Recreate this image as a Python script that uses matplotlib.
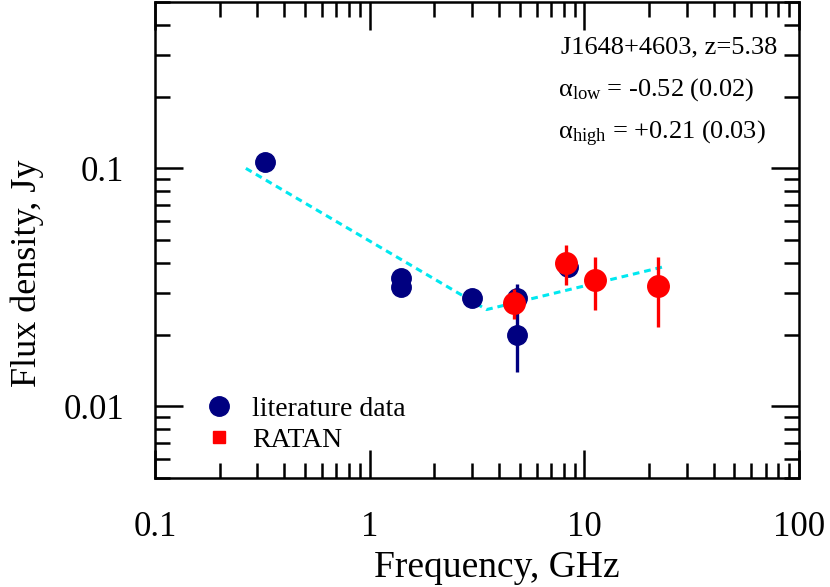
import matplotlib
matplotlib.use("Agg")
import matplotlib.pyplot as plt
from matplotlib.lines import Line2D
from matplotlib.ticker import LogLocator, NullFormatter, FixedLocator, FixedFormatter

plt.rcParams['font.family'] = ['Liberation Serif', 'DejaVu Serif']
plt.rcParams['mathtext.fontset'] = 'custom'
plt.rcParams['mathtext.rm'] = 'Liberation Serif'
plt.rcParams['mathtext.it'] = 'Liberation Serif:italic'

# literature data
lit_freq = [0.325, 1.4, 1.4, 3.0, 4.85, 4.85, 8.4]
lit_flux = [0.106, 0.0345, 0.0318, 0.0286, 0.0286, 0.020, 0.0385]
lit_err = [0.006, 0.002, 0.002, 0.0015, 0.004, 0.006, 0.003]

# RATAN data
rat_freq = [4.7, 8.2, 11.2, 22.0]
rat_flux = [0.0272, 0.040, 0.034, 0.032]
rat_err = [0.004, 0.0075, 0.0085, 0.0105]

# broken power-law fit vertices
fit_freq = [0.265, 3.5, 24.0]
fit_flux = [0.1, 0.0255, 0.0388]

fig = plt.figure(figsize=(8.3, 5.87), dpi=100)
ax = fig.add_axes([155/830, 1-478/587, (799-155)/830, (478-2)/587])
ax.set_xscale('log')
ax.set_yscale('log')
ax.set_xlim(0.1, 100)
ax.set_ylim(0.005, 0.5)

ax.plot(fit_freq, fit_flux, color='#00e8f0', ls=(0, (2.2, 1.6)), lw=2.2, zorder=1)

ax.errorbar(lit_freq, lit_flux, yerr=lit_err, fmt='o', color='#000080',
            ms=14, elinewidth=2.4, capsize=0, zorder=2)
ax.errorbar(rat_freq, rat_flux, yerr=rat_err, fmt='o', color='#ff0000',
            ms=15.5, elinewidth=2.4, capsize=0, zorder=3)

ax.xaxis.set_major_locator(FixedLocator([0.1, 1, 10, 100]))
ax.xaxis.set_major_formatter(FixedFormatter(['0.1', '1', '10', '100']))
ax.xaxis.set_minor_locator(LogLocator(base=10, subs=range(2, 10), numticks=20))
ax.xaxis.set_minor_formatter(NullFormatter())
ax.yaxis.set_major_locator(FixedLocator([0.01, 0.1]))
ax.yaxis.set_major_formatter(FixedFormatter(['0.01', '0.1']))
ax.yaxis.set_minor_locator(LogLocator(base=10, subs=range(2, 10), numticks=20))
ax.yaxis.set_minor_formatter(NullFormatter())

ax.tick_params(which='both', direction='in', top=True, right=True, width=1.8)
ax.tick_params(which='major', length=20, labelsize=25)
ax.tick_params(which='minor', length=11)
ax.tick_params(axis='x', which='major', pad=24)
ax.tick_params(axis='y', which='major', pad=22)
for s in ax.spines.values():
    s.set_linewidth(1.8)

ax.set_xlabel('Frequency, GHz', fontsize=27)
ax.xaxis.set_label_coords(0.531, -0.152)
ax.set_ylabel('Flux density, Jy', fontsize=26)
ax.yaxis.set_label_coords(-0.172, 0.43)

ax.text(0.967, 0.928, 'J1648+4603, z=5.38', transform=ax.transAxes,
        ha='right', va='top', fontsize=19)
ax.text(0.625, 0.845, r'α$_{\mathrm{low}}$ = -0.52 (0.02)', transform=ax.transAxes,
        ha='left', va='top', fontsize=19)
ax.text(0.625, 0.755, r'α$_{\mathrm{high}}$ = +0.21 (0.03)', transform=ax.transAxes,
        ha='left', va='top', fontsize=19)

handles = [Line2D([], [], ls='none', marker='o', color='#000080', ms=14),
           Line2D([], [], ls='none', marker='s', color='#ff0000', ms=9)]
ax.legend(handles, ['literature data', 'RATAN'], loc='lower left',
          bbox_to_anchor=(0.034, 0.0), frameon=False, fontsize=20,
          handletextpad=0.6, labelspacing=0.2, handlelength=1.2)

fig.savefig('out.png', dpi=100)
